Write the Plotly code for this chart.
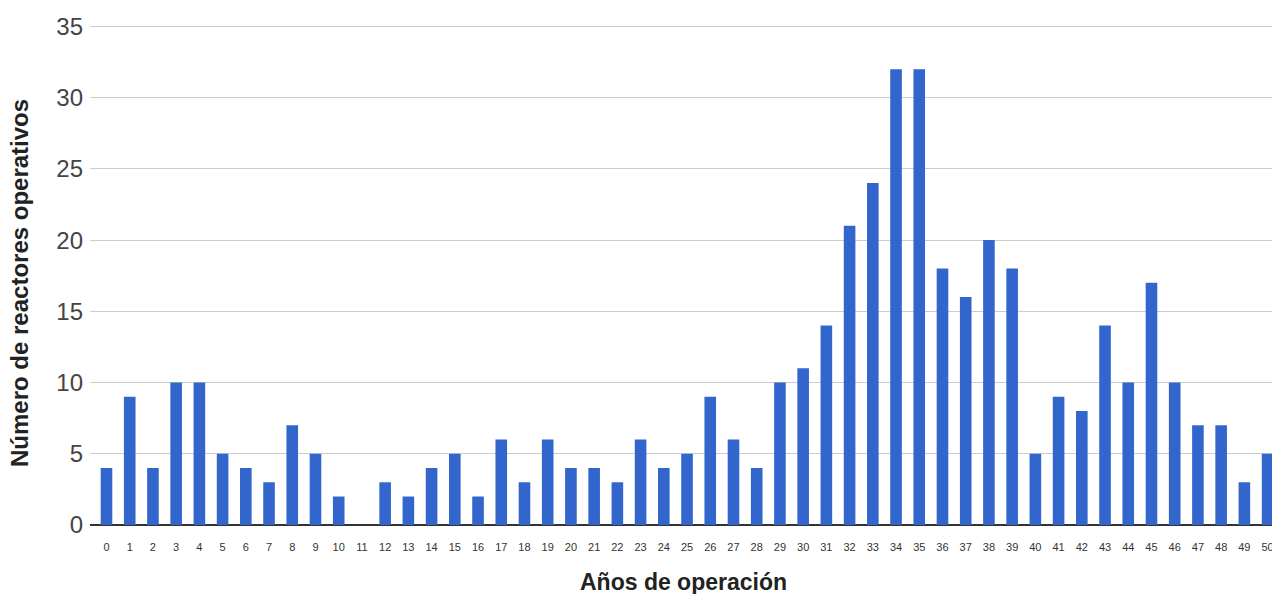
import plotly.graph_objects as go

years = list(range(51))
reactors = [4, 9, 4, 10, 10, 5, 4, 3, 7, 5,
            2, 0, 3, 2, 4, 5, 2, 6, 3, 6,
            4, 4, 3, 6, 4, 5, 9, 6, 4, 10,
            11, 14, 21, 24, 32, 32, 18, 16, 20, 18,
            5, 9, 8, 14, 10, 17, 10, 7, 7, 3, 5]
y_ticks = [0, 5, 10, 15, 20, 25, 30, 35]
x_title = "Años de operación"
y_title = "Número de reactores operativos"

fig = go.Figure()
fig.add_trace(go.Bar(
    x=years, y=reactors,
    marker=dict(color="#3366CC", line=dict(width=0)),
))

L, T, B = 90, 25, 69
W, H = 1272, 594
pw = W - L
ph = H - T - B

fig.update_layout(
    width=W, height=H,
    margin=dict(l=L, r=0, t=T, b=B, autoexpand=False),
    paper_bgcolor="white", plot_bgcolor="white",
    bargap=0.5,
    showlegend=False,
    font=dict(family="Liberation Sans, Arial, sans-serif", color="#222"),
    xaxis=dict(
        range=[-0.71, 50.19],
        automargin=False,
        tickmode="array", tickvals=years, ticktext=[str(v) for v in years],
        tickfont=dict(size=11, color="#333"),
        ticklabeloverflow="allow",
        showgrid=False, zeroline=False,
        showline=False, ticks="", ticklabelstandoff=14,
    ),
    yaxis=dict(
        range=[0, 35.1],
        automargin=False,
        tickmode="array", tickvals=y_ticks,
        tickfont=dict(size=24, color="#444"),
        showgrid=True, gridcolor="#cccccc", gridwidth=1,
        zeroline=True, zerolinecolor="#333333", zerolinewidth=2,
        ticks="", ticklabelstandoff=6,
    ),
    annotations=[
        dict(text="<b>" + x_title + "</b>", xref="paper", yref="paper",
             x=(683 - L) / pw, y=(H - B - 582) / ph,
             xanchor="center", yanchor="middle", showarrow=False,
             font=dict(size=23, color="#222")),
        dict(text="<b>" + y_title + "</b>", xref="paper", yref="paper",
             x=(19 - L) / pw, y=(H - B - 283) / ph, textangle=-90,
             xanchor="center", yanchor="middle", showarrow=False,
             font=dict(size=24, color="#222")),
    ],
)

fig.write_html("out.html", config={"displayModeBar": False},
               post_script="document.body.style.margin='0px';document.body.style.overflow='hidden';")
